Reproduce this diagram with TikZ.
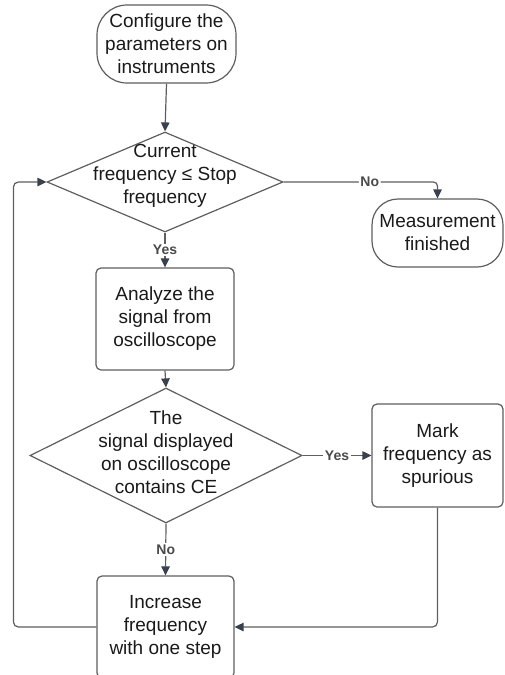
\documentclass[tikz,border=0pt]{standalone}
\usepackage{fontspec}
\setmainfont{Liberation Sans}
\usetikzlibrary{shapes.geometric,arrows.meta}
\definecolor{linec}{HTML}{5E5E5E}
\definecolor{tipc}{HTML}{3A414C}
\definecolor{txtc}{HTML}{1A1A1A}
\definecolor{lblc}{HTML}{4A4A4A}
\begin{document}
\begin{tikzpicture}[x=1pt,y=-1pt,
  shapebox/.style={draw=linec, line width=1.2pt, fill=white, inner sep=0pt,
    font=\fontsize{19}{23}\selectfont, text=txtc, align=center},
  term/.style={shapebox, rounded corners=30pt},
  proc/.style={shapebox, rounded corners=5pt},
  dec/.style={shapebox, diamond},
  txt/.style={font=\fontsize{19}{23}\selectfont, text=txtc, align=center, inner sep=0pt},
  conn/.style={draw=linec, line width=1.2pt, -{Triangle[length=9pt,width=8.5pt,color=tipc]}},
  lbl/.style={font=\fontsize{14}{16}\selectfont\bfseries, text=lblc, fill=white, inner sep=1.5pt}
]
\useasboundingbox (0,0) rectangle (504,675);
\clip (0,0) rectangle (504,675);

% shapes
\node[term, minimum width=139pt, minimum height=78pt] (t1) at (166.5,44) {Configure the\\parameters on\\instruments};
\node[dec, minimum width=236pt, minimum height=100pt] (d1) at (165,182) {};
\node[txt] (d1t) at (165,176) {Current\\frequency ≤ Stop\\frequency};
\node[term, rounded corners=26pt, minimum width=131pt, minimum height=68pt] (t2) at (437.5,233) {Measurement\\finished};
\node[proc, minimum width=138pt, minimum height=102pt] (an) at (165,319) {Analyze the\\signal from\\oscilloscope};
\node[dec, minimum width=272pt, minimum height=135pt] (d2) at (166,455.5) {};
\node[txt] (d2t) at (166,452) {The\\signal displayed\\on oscilloscope\\contains CE};
\node[proc, minimum width=131pt, minimum height=103pt] (mk) at (437.5,455.5) {Mark\\frequency as\\spurious};
\node[proc, minimum width=137pt, minimum height=102pt] (inc) at (165.5,627) {Increase\\frequency\\with one step};

% connectors
\draw[conn] (t1.south) -- (d1.north);
\draw[conn, rounded corners=4pt] (d1.east) -| node[lbl, pos=0.28] {No} (t2.north);
\draw[conn] (d1.south) -- node[lbl] {Yes} (an.north);
\draw[conn] (an.south) -- (d2.north);
\draw[conn] (d2.east) -- node[lbl] {Yes} (mk.west);
\draw[conn] (d2.south) -- node[lbl] {No} (inc.north);
\draw[conn, rounded corners=5pt] (mk.south) |- (inc.east);
\draw[conn, rounded corners=5pt] (inc.west) -- ++(-83,0) |- (d1.west);
\end{tikzpicture}
\end{document}
